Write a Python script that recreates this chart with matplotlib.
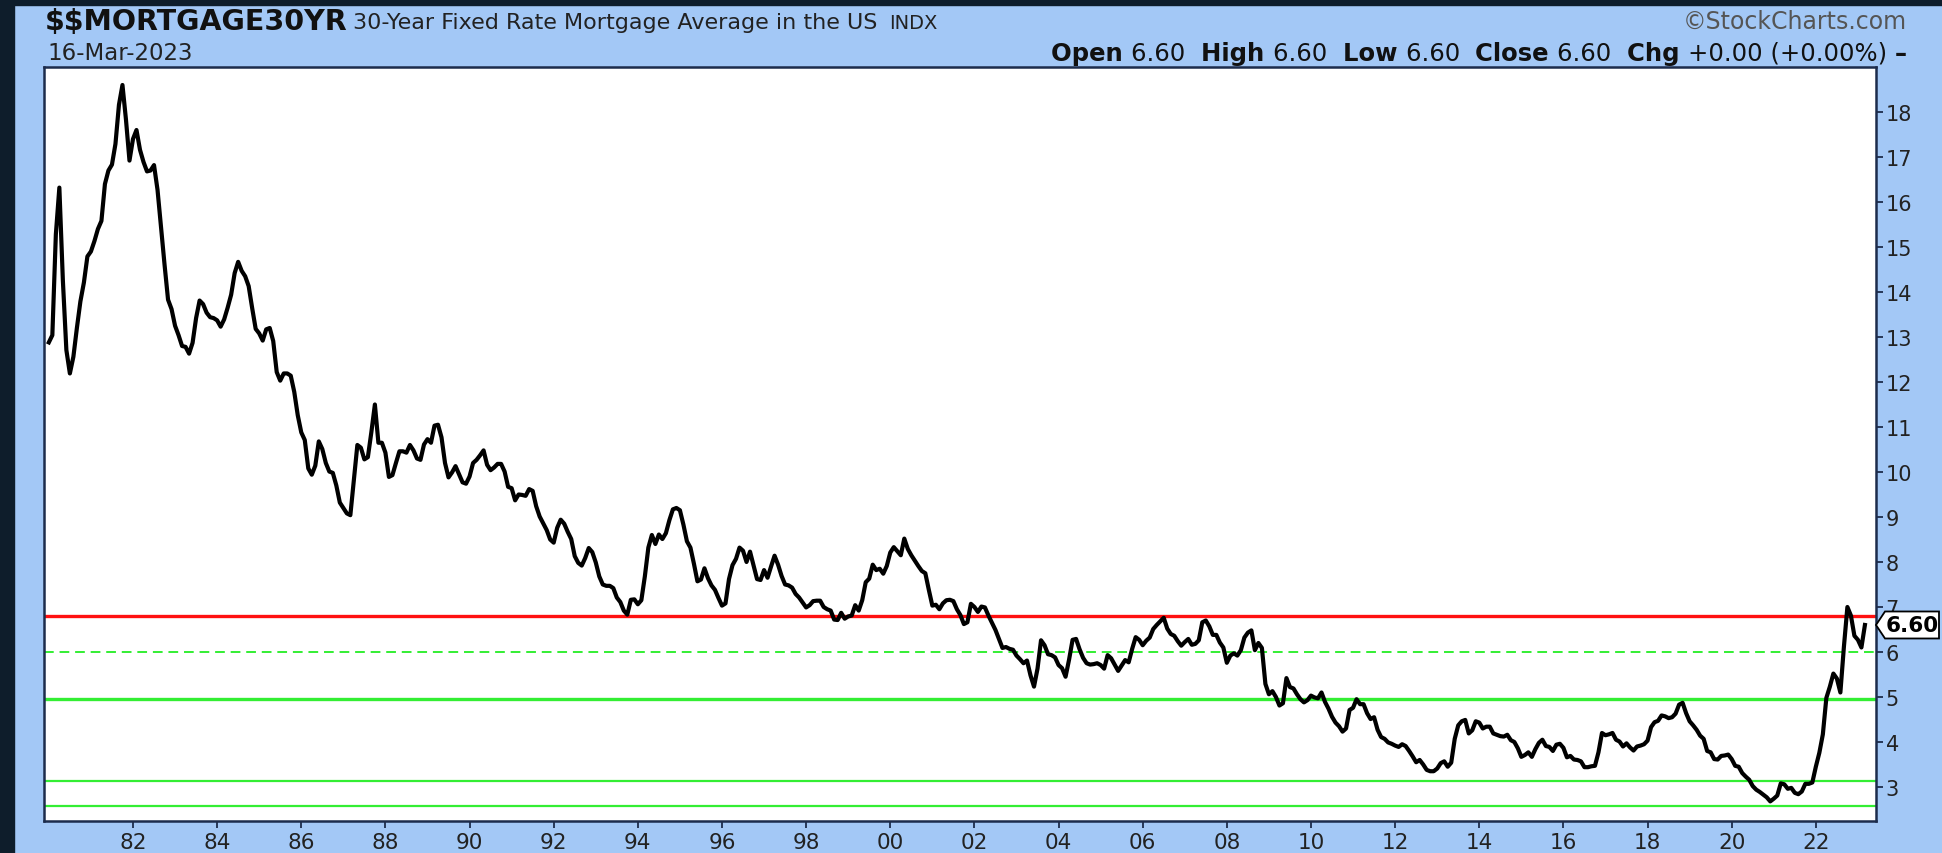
import numpy as np
import matplotlib
matplotlib.use("Agg")
import matplotlib.pyplot as plt
from matplotlib.patches import Rectangle, Polygon
import matplotlib.transforms as mtransforms

# monthly average 30y fixed rate (first month = Jan 1980)
rates_1980s = [
    12.88, 13.04, 15.28, 16.32, 14.26, 12.71, 12.19, 12.56, 13.20, 13.79, 14.21, 14.79,
    14.90, 15.13, 15.40, 15.58, 16.40, 16.70, 16.83, 17.29, 18.16, 18.60, 17.83, 16.92,
    17.40, 17.60, 17.16, 16.89, 16.68, 16.70, 16.82, 16.27, 15.43, 14.61, 13.83, 13.62,
    13.25, 13.04, 12.80, 12.78, 12.63, 12.87, 13.42, 13.81, 13.73, 13.54, 13.44, 13.42,
    13.37, 13.23, 13.39, 13.65, 13.94, 14.42, 14.67, 14.47, 14.35, 14.13, 13.64, 13.18,
    13.08, 12.92, 13.17, 13.20, 12.91, 12.22, 12.03, 12.19, 12.19, 12.14, 11.78, 11.26,
    10.88, 10.71, 10.08, 9.94, 10.14, 10.68, 10.51, 10.20, 10.01, 9.98, 9.70, 9.32,
    9.20, 9.08, 9.04, 9.83, 10.60, 10.54, 10.28, 10.33, 10.89, 11.50, 10.65, 10.65,
    10.43, 9.89, 9.93, 10.20, 10.46, 10.46, 10.43, 10.60, 10.48, 10.30, 10.27, 10.61,
    10.73, 10.65, 11.03, 11.05, 10.77, 10.20, 9.88, 9.99, 10.13, 9.95, 9.77, 9.74,
]
rates_1990s = [
    9.90, 10.20, 10.27, 10.37, 10.48, 10.16, 10.04, 10.10, 10.18, 10.18, 10.01, 9.67,
    9.64, 9.37, 9.50, 9.49, 9.47, 9.62, 9.58, 9.24, 9.01, 8.86, 8.71, 8.50,
    8.43, 8.76, 8.94, 8.85, 8.67, 8.51, 8.13, 7.98, 7.92, 8.09, 8.31, 8.22,
    7.99, 7.68, 7.50, 7.47, 7.47, 7.42, 7.21, 7.11, 6.92, 6.83, 7.16, 7.17,
    7.06, 7.15, 7.68, 8.32, 8.60, 8.40, 8.61, 8.51, 8.64, 8.93, 9.17, 9.20,
    9.15, 8.83, 8.46, 8.32, 7.96, 7.57, 7.61, 7.86, 7.64, 7.48, 7.38, 7.20,
    7.03, 7.08, 7.62, 7.93, 8.07, 8.32, 8.25, 8.00, 8.23, 7.92, 7.62, 7.60,
    7.82, 7.65, 7.90, 8.14, 7.94, 7.69, 7.50, 7.48, 7.43, 7.29, 7.21, 7.10,
    6.99, 7.04, 7.13, 7.14, 7.14, 7.00, 6.95, 6.92, 6.72, 6.71, 6.87, 6.74,
    6.79, 6.81, 7.04, 6.92, 7.15, 7.55, 7.63, 7.94, 7.82, 7.85, 7.74, 7.91,
]
rates_2000s = [
    8.21, 8.33, 8.24, 8.15, 8.52, 8.29, 8.15, 8.03, 7.91, 7.80, 7.75, 7.38,
    7.03, 7.05, 6.95, 7.08, 7.15, 7.16, 7.13, 6.95, 6.82, 6.62, 6.66, 7.07,
    7.00, 6.89, 7.01, 6.99, 6.81, 6.65, 6.49, 6.29, 6.09, 6.11, 6.07, 6.05,
    5.92, 5.84, 5.75, 5.81, 5.48, 5.23, 5.63, 6.26, 6.15, 5.95, 5.93, 5.88,
    5.71, 5.64, 5.45, 5.83, 6.27, 6.29, 6.06, 5.87, 5.75, 5.72, 5.73, 5.75,
    5.71, 5.63, 5.93, 5.86, 5.72, 5.58, 5.70, 5.82, 5.77, 6.07, 6.33, 6.27,
    6.15, 6.25, 6.32, 6.51, 6.60, 6.68, 6.76, 6.52, 6.40, 6.36, 6.24, 6.14,
    6.22, 6.29, 6.16, 6.18, 6.26, 6.66, 6.70, 6.57, 6.38, 6.38, 6.21, 6.10,
    5.76, 5.92, 5.97, 5.92, 6.04, 6.32, 6.43, 6.48, 6.04, 6.20, 6.09, 5.29,
    5.06, 5.13, 5.00, 4.81, 4.86, 5.42, 5.22, 5.19, 5.06, 4.95, 4.88, 4.93,
]
rates_2010s = [
    5.03, 4.99, 4.97, 5.10, 4.89, 4.74, 4.56, 4.43, 4.35, 4.23, 4.30, 4.71,
    4.76, 4.95, 4.84, 4.84, 4.64, 4.51, 4.55, 4.27, 4.11, 4.07, 3.99, 3.96,
    3.92, 3.89, 3.95, 3.91, 3.80, 3.68, 3.55, 3.60, 3.50, 3.38, 3.35, 3.35,
    3.41, 3.53, 3.57, 3.45, 3.54, 4.07, 4.37, 4.46, 4.49, 4.19, 4.26, 4.46,
    4.43, 4.30, 4.34, 4.34, 4.19, 4.16, 4.13, 4.12, 4.16, 4.04, 4.00, 3.86,
    3.67, 3.71, 3.77, 3.67, 3.84, 3.98, 4.05, 3.91, 3.89, 3.80, 3.94, 3.96,
    3.87, 3.66, 3.69, 3.61, 3.60, 3.57, 3.44, 3.44, 3.46, 3.47, 3.77, 4.20,
    4.15, 4.17, 4.20, 4.05, 4.01, 3.90, 3.97, 3.88, 3.81, 3.90, 3.92, 3.95,
    4.03, 4.33, 4.44, 4.47, 4.59, 4.57, 4.53, 4.55, 4.63, 4.83, 4.87, 4.64,
    4.46, 4.37, 4.27, 4.14, 4.07, 3.80, 3.77, 3.62, 3.61, 3.69, 3.70, 3.72,
]
rates_2020s = [
    3.62, 3.47, 3.45, 3.31, 3.23, 3.16, 3.02, 2.94, 2.89, 2.83, 2.77, 2.68,
    2.74, 2.81, 3.08, 3.06, 2.96, 2.98, 2.87, 2.84, 2.90, 3.07, 3.07, 3.10,
    3.45, 3.76, 4.17, 4.98, 5.23, 5.52, 5.41, 5.10, 6.11, 7.00, 6.81, 6.36,
    6.27, 6.10, 6.60,
]

resistance = 6.80
dashed_level = 6.00
support_main = 4.95
support_low = [3.13, 2.57]

start_year = 1980
year_ticks = list(range(1982, 2023, 2))
y_ticks = list(range(3, 19))

symbol = "$$MORTGAGE30YR"
name = "30-Year Fixed Rate Mortgage Average in the US"
date_str = "16-Mar-2023"

rates = np.array(rates_1980s + rates_1990s + rates_2000s + rates_2010s + rates_2020s)
t = start_year + np.arange(len(rates)) / 12.0
last = rates[-1]

W, H = 1942, 854
bg = "#a3c8f6"
dark = "#0e1d2b"
navy = "#1c2c4c"
green = "#33ee33"

fig = plt.figure(figsize=(W / 100, H / 100), dpi=100, facecolor=bg)
fig.add_artist(Rectangle((0, 0), 14 / W, 1, transform=fig.transFigure, color=dark, zorder=0))
fig.add_artist(Rectangle((0, 1 - 6 / H), 1, 6 / H, transform=fig.transFigure, color=dark, zorder=0))

ax = fig.add_axes([44 / W, 32 / H, (1876 - 44) / W, (822 - 68) / H])
ax.set_facecolor("white")

ax.axhline(resistance, color="#ff1010", lw=2.4, zorder=2)
ax.axhline(dashed_level, color=green, lw=1.4, ls=(0, (5, 3)), zorder=2)
ax.axhline(support_main, color=green, lw=2.4, zorder=2)
for lvl in support_low:
    ax.axhline(lvl, color=green, lw=1.6, zorder=2)

ax.plot(t, rates, color="black", lw=3.0, zorder=3, solid_joinstyle="round")

ax.set_xlim(1979.885, 2023.43)
ax.set_ylim(2.244, 19.0)

ax.yaxis.tick_right()
ax.set_yticks(y_ticks)
ax.set_yticklabels([str(v) for v in y_ticks])
ax.set_xticks(year_ticks)
ax.set_xticklabels(["%02d" % (y % 100) for y in year_ticks])
ax.tick_params(axis="y", direction="out", length=5, width=1.3, color=navy,
               labelsize=15, labelcolor="#222222", pad=2)
ax.tick_params(axis="x", direction="out", length=5, width=1.3, color=navy,
               labelsize=15.5, labelcolor="#222222", pad=3)
for s in ax.spines.values():
    s.set_color(navy)
    s.set_linewidth(1.8)

# last value tag on the right axis, drawn over the tick labels like the original
trans = mtransforms.blended_transform_factory(ax.transAxes, ax.transData)
x0 = 1.0
x1 = 1.0 + 9 / 1832
x2 = 1.0 + 63 / 1832
hh = 13.5 / 45
tag = Polygon([(x0, last), (x1, last + hh), (x2, last + hh), (x2, last - hh), (x1, last - hh)],
              closed=True, transform=trans, fc="white", ec="black", lw=1.3,
              clip_on=False, zorder=5)
ax.add_patch(tag)
ax.text((x1 + x2) / 2, last, "%.2f" % last, transform=trans, ha="center", va="center",
        fontsize=15.5, fontweight="bold", color="black", zorder=6, clip_on=False)


def fx(px):
    return px / W


def fy(py):
    return 1 - py / H


fig.text(fx(45), fy(30), symbol, fontsize=20.5, fontweight="bold", color="#111111",
         va="baseline", parse_math=False)
fig.text(fx(353), fy(29), name, fontsize=16, color="#222222", va="baseline")
fig.text(fx(889), fy(29), "INDX", fontsize=14, color="#222222", va="baseline")
fig.text(fx(47), fy(60), date_str, fontsize=16.5, color="#222222", va="baseline")
fig.text(fx(1907), fy(29), "\u00a9StockCharts.com", fontsize=17, color="#555555",
         ha="right", va="baseline")

# OHLC summary line, right aligned
chg = 0.0
parts = [("Open ", True), ("%.2f  " % last, False), ("High ", True), ("%.2f  " % last, False),
         ("Low ", True), ("%.2f  " % last, False), ("Close ", True), ("%.2f  " % last, False),
         ("Chg ", True), ("%+.2f (%+.2f%%) " % (chg, chg), False), ("\u2013", True)]
renderer = fig.canvas.get_renderer()
texts = []
for s, b in parts:
    tx = fig.text(0, fy(61), s, fontsize=17.5, fontweight="bold" if b else "normal",
                  color="#111111", va="baseline", parse_math=False)
    texts.append(tx)
widths = [tx.get_window_extent(renderer).width for tx in texts]
xpos = 1907 - sum(widths)
for tx, w in zip(texts, widths):
    tx.set_x(fx(xpos))
    xpos += w

fig.savefig("out.png", dpi=100, facecolor=bg)
